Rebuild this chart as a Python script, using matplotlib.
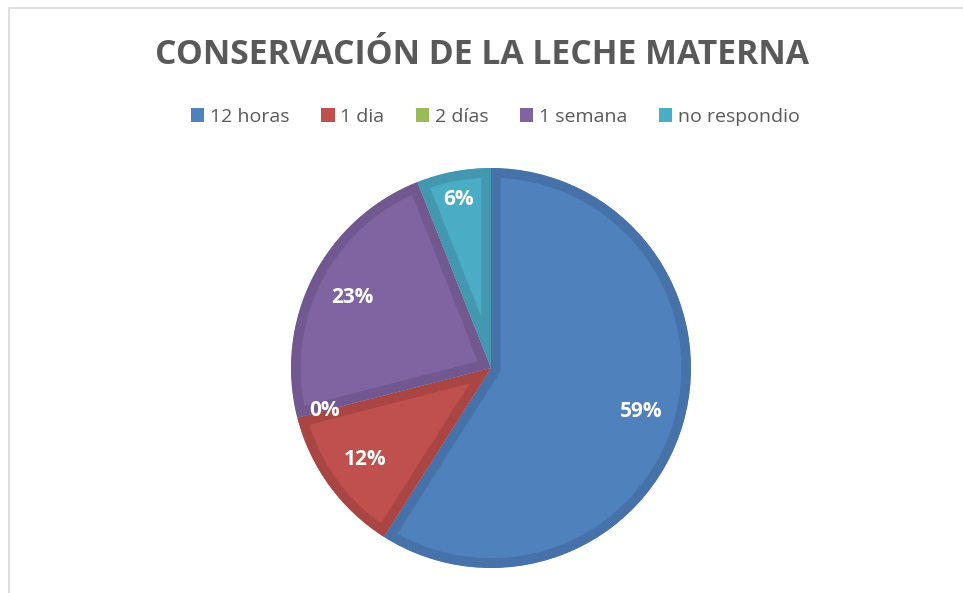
import matplotlib
matplotlib.use("Agg")
import matplotlib.pyplot as plt
from matplotlib.patches import Rectangle, Patch
import numpy as np

# datos del grafico
categorias = ["12 horas", "1 dia", "2 días", "1 semana", "no respondio"]
porcentajes = [59, 12, 0, 23, 6]
titulo = "CONSERVACIÓN DE LA LECHE MATERNA"

colores = ["#4F81BD", "#C0504D", "#9BBB59", "#8064A2", "#4BACC6"]
bordes = ["#4672A9", "#A94643", "#89A54E", "#715890", "#4398AF"]

plt.rcParams['font.family'] = ['Open Sans', 'DejaVu Sans']

fig = plt.figure(figsize=(9.63, 5.93), dpi=100)
fig.patch.set_facecolor("white")

# marco gris claro del grafico (solo se ven los bordes izq. y sup.)
fig.add_artist(Rectangle((9 / 963, -0.1), 1.2, 1 - 8 / 593 + 0.1,
                         transform=fig.transFigure, fill=False,
                         edgecolor="#D9D9D9", linewidth=1.2))

ax = fig.add_axes([(491 - 200) / 963, (593 - 368 - 200) / 593, 400 / 963, 400 / 593])

wedges, _ = ax.pie(porcentajes, colors=colores, startangle=90, counterclock=False,
                   radius=1.0, wedgeprops=dict(linewidth=0))
ax.set_xlim(-1, 1)
ax.set_ylim(-1, 1)
ax.set_aspect("equal")
ax.axis("off")

# borde interior mas oscuro (como el estilo de Excel): linea gruesa recortada a la propia cuña
for w, c in zip(wedges, bordes):
    w.set_edgecolor(c)
    w.set_linewidth(14)
    w.set_joinstyle("miter")
    w.set_clip_on(True)
    w.set_clip_path(w)

# etiquetas de porcentaje
for w, p in zip(wedges, porcentajes):
    ang = np.deg2rad((w.theta1 + w.theta2) / 2)
    d = 0.78 if p > 8 else 0.86
    ax.text(d * np.cos(ang), d * np.sin(ang), f"{p}%", ha="center", va="center",
            color="white", fontsize=15, fontweight="bold")

fig.text(0.5, 1 - 55 / 593, titulo, ha="center", va="center",
         fontsize=24.3, fontweight="bold", color="#595959")

handles = [Patch(facecolor=c, edgecolor="none") for c in colores]
fig.legend(handles, categorias, loc="center", bbox_to_anchor=(0.5145, 1 - 117 / 593),
           ncol=5, frameon=False, fontsize=14, labelcolor="#595959",
           handlelength=0.7, handleheight=0.7, handletextpad=0.3, columnspacing=1.6)

fig.savefig("out.png", dpi=100, facecolor="white")
